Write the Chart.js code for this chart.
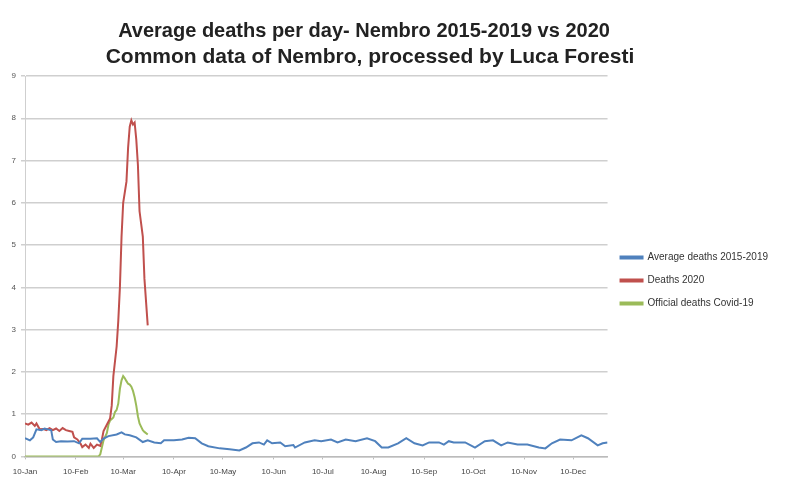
<!DOCTYPE html>
<html>
<head>
<meta charset="utf-8">
<script src="https://cdn.jsdelivr.net/npm/chart.js@4.4.0/dist/chart.umd.min.js"></script>
<style>
  html, body { margin: 0; padding: 0; background: #fff; }
  #wrap { width: 800px; height: 491px; }
</style>
</head>
<body>
<div id="wrap"><canvas id="chart" width="800" height="491"></canvas></div>
<script>
// === DATOS ===
// dias contados desde el 10 de enero
const titleLines = [
  "Average deaths per day- Nembro 2015-2019 vs 2020",
  "Common data of Nembro, processed by Luca Foresti"
];
const tickDays = [0, 31, 60, 91, 121, 152, 182, 213, 244, 274, 305, 335];
const tickLabels = ["10-Jan", "10-Feb", "10-Mar", "10-Apr", "10-May", "10-Jun",
  "10-Jul", "10-Aug", "10-Sep", "10-Oct", "10-Nov", "10-Dec"];

const avgDays = [0, 3, 5, 7, 10, 12, 14, 16, 17, 19, 22, 26, 30, 33, 35, 40, 44, 46, 48, 51,
  56, 59, 61, 64, 68, 72, 75, 79, 83, 85, 91, 96, 100, 104, 108, 112, 119, 125, 131, 135,
  139, 143, 146, 148, 151, 156, 159, 164, 165, 171, 177, 181, 187, 191, 196, 202, 209, 214,
  218, 222, 228, 233, 238, 243, 247, 253, 256, 259, 262, 269, 275, 281, 286, 291, 295, 301,
  307, 314, 318, 322, 327, 334, 340, 344, 350, 353, 356];
const avgDeaths = [0.43, 0.38, 0.45, 0.64, 0.62, 0.66, 0.64, 0.62, 0.40, 0.34, 0.36, 0.35, 0.36, 0.31, 0.42, 0.42, 0.43, 0.34, 0.42, 0.48,
  0.52, 0.57, 0.52, 0.50, 0.45, 0.34, 0.38, 0.33, 0.31, 0.38, 0.38, 0.40, 0.44, 0.43, 0.31, 0.24, 0.19, 0.17, 0.14, 0.21,
  0.31, 0.33, 0.28, 0.38, 0.31, 0.33, 0.24, 0.27, 0.21, 0.33, 0.38, 0.36, 0.40, 0.33, 0.40, 0.36, 0.43, 0.36,
  0.21, 0.21, 0.31, 0.43, 0.31, 0.26, 0.33, 0.33, 0.28, 0.36, 0.33, 0.33, 0.21, 0.36, 0.38, 0.26, 0.33, 0.28,
  0.28, 0.21, 0.19, 0.31, 0.40, 0.38, 0.50, 0.43, 0.26, 0.31, 0.33];

const deathsDays = [0, 2, 4, 6, 7, 9, 11, 13, 15, 17, 19, 21, 23, 25, 27, 29, 30, 32, 34, 35,
  37, 39, 40, 42, 44, 46, 47, 48, 50, 52, 53, 54, 56, 57, 58, 59, 60, 62, 63, 64,
  65, 66, 67, 68, 69, 70, 71, 72, 73, 75];
const deaths2020 = [0.78, 0.75, 0.80, 0.72, 0.78, 0.64, 0.65, 0.62, 0.67, 0.62, 0.66, 0.60, 0.67, 0.62, 0.60, 0.58, 0.45, 0.40, 0.30, 0.22,
  0.28, 0.20, 0.30, 0.20, 0.28, 0.25, 0.40, 0.60, 0.75, 0.90, 1.20, 1.90, 2.60, 3.20, 4.00, 5.20, 6.00, 6.50, 7.30, 7.80,
  7.95, 7.85, 7.90, 7.50, 6.90, 5.80, 5.50, 5.20, 4.20, 3.10];

const covidDays = [0, 45, 46, 48, 50, 51, 52, 54, 55, 56, 57, 58, 59, 60, 61, 62, 63, 64, 65, 66,
  67, 68, 69, 70, 71, 72, 73, 75];
const covidDeaths = [0, 0, 0.05, 0.38, 0.55, 0.75, 0.85, 0.92, 1.05, 1.10, 1.25, 1.60, 1.80, 1.90, 1.85, 1.78, 1.72, 1.70, 1.65, 1.55,
  1.40, 1.20, 0.95, 0.78, 0.70, 0.62, 0.58, 0.52];

// === FUNCIONES ===
function toPoints(days, values) {
  return days.map((d, i) => ({ x: d, y: values[i] }));
}

// titulo centrado a mano (no sobre todo el ancho)
const titlePlugin = {
  id: "twoLineTitle",
  afterDraw(chart) {
    const ctx = chart.ctx;
    ctx.save();
    ctx.fillStyle = "#222";
    ctx.textAlign = "center";
    ctx.textBaseline = "middle";
    ctx.font = "bold 20px 'Liberation Sans', Arial, sans-serif";
    ctx.fillText(titleLines[0], 364, 31);
    ctx.font = "bold 21px 'Liberation Sans', Arial, sans-serif";
    ctx.fillText(titleLines[1], 370, 57);
    ctx.restore();
  }
};

const line = (label, data, color) => ({
  label: label,
  data: data,
  borderColor: color,
  backgroundColor: color,
  borderWidth: 2,
  pointRadius: 0,
  tension: 0,
  fill: false
});

new Chart(document.getElementById("chart").getContext("2d"), {
  type: "line",
  data: {
    datasets: [
      line("Average deaths 2015-2019", toPoints(avgDays, avgDeaths), "#4F81BD"),
      line("Deaths 2020", toPoints(deathsDays, deaths2020), "#C0504D"),
      line("Official deaths Covid-19", toPoints(covidDays, covidDeaths), "#9BBB59")
    ]
  },
  options: {
    responsive: false,
    animation: false,
    layout: { padding: { top: 76, right: 22, bottom: 6, left: 0 } },
    plugins: {
      title: { display: false },
      tooltip: { enabled: false },
      legend: {
        position: "right",
        labels: {
          boxWidth: 22,
          boxHeight: 2,
          padding: 13,
          color: "#333",
          font: { family: "'Liberation Sans', Arial, sans-serif", size: 10 }
        }
      }
    },
    scales: {
      x: {
        type: "linear",
        min: 0,
        max: 356,
        afterBuildTicks: (s) => { s.ticks = tickDays.map((d) => ({ value: d })); },
        ticks: {
          autoSkip: false,
          maxRotation: 0,
          color: "#444",
          font: { family: "'Liberation Sans', Arial, sans-serif", size: 8 },
          padding: 8,
          callback: (v) => tickLabels[tickDays.indexOf(v)]
        },
        grid: { display: true, drawOnChartArea: false, drawTicks: true, tickLength: 3, color: "#bbb", lineWidth: 1 },
        border: { display: true, color: "#bbb", width: 1.5 }
      },
      y: {
        min: 0,
        max: 9,
        afterFit: (s) => { s.width = 25; },
        ticks: {
          stepSize: 1,
          color: "#555",
          font: { family: "'Liberation Sans', Arial, sans-serif", size: 8 },
          padding: 5
        },
        grid: { color: "#cfcfcf", lineWidth: 1.5, tickLength: 4 },
        border: { display: true, color: "#cfcfcf", width: 1 }
      }
    }
  },
  plugins: [titlePlugin]
});
</script>
</body>
</html>
